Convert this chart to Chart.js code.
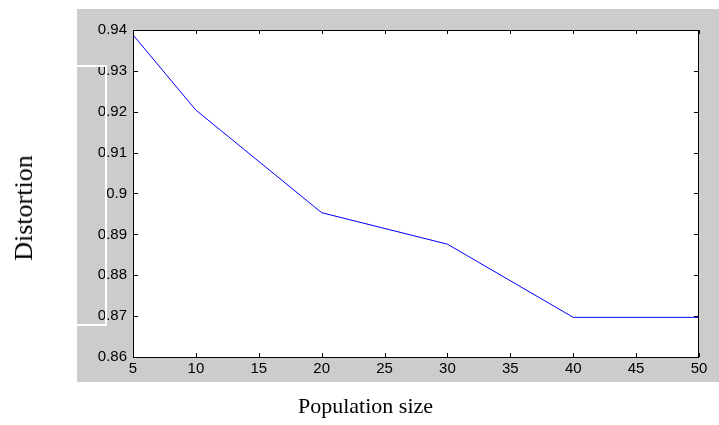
<!DOCTYPE html>
<html>
<head>
<meta charset="utf-8">
<script src="https://cdn.jsdelivr.net/npm/chart.js@4.4.1/dist/chart.umd.min.js"></script>
<style>
  html, body { margin: 0; padding: 0; background: #ffffff; }
  #wrap { position: relative; width: 719px; height: 425px; overflow: hidden; }
  #c { position: absolute; left: 0; top: 0; }
  .title { position: absolute; font-family: "Liberation Serif", "Times New Roman", serif; color: #000; white-space: nowrap; }
  #xt { font-size: 22px; left: 298px; top: 393px; }
  #yt { font-size: 26px; left: 24px; top: 208px; transform: translate(-50%, -50%) rotate(-90deg); }
</style>
</head>
<body>
<div id="wrap">
  <canvas id="c" width="719" height="425"></canvas>
  <div class="title" id="xt">Population size</div>
  <div class="title" id="yt">Distortion</div>
</div>
<script>
// ---- data ----
const populationSizes = [5, 10, 20, 30, 40, 50];
const distortion = [0.9388, 0.9204, 0.8953, 0.8876, 0.8697, 0.8697];
const xTicks = [5, 10, 15, 20, 25, 30, 35, 40, 45, 50];
const yTicks = [0.86, 0.87, 0.88, 0.89, 0.9, 0.91, 0.92, 0.93, 0.94];
const yTickLabels = ['0.86', '0.87', '0.88', '0.89', '0.9', '0.91', '0.92', '0.93', '0.94'];

const PANEL = { left: 77, top: 9, right: 719, bottom: 382 };

const framePlugin = {
  id: 'frame',
  beforeDraw(chart) {
    const ctx = chart.ctx, a = chart.chartArea;
    ctx.save();
    ctx.fillStyle = '#ffffff';
    ctx.fillRect(0, 0, chart.width, chart.height);
    ctx.fillStyle = '#cccccc';
    ctx.fillRect(PANEL.left, PANEL.top, PANEL.right - PANEL.left, PANEL.bottom - PANEL.top);
    ctx.fillStyle = '#ffffff';
    ctx.fillRect(a.left, a.top, a.right - a.left, a.bottom - a.top);
    ctx.restore();
  },
  afterDraw(chart) {
    const ctx = chart.ctx, a = chart.chartArea;
    const xs = chart.scales.x, ys = chart.scales.y;
    ctx.save();
    ctx.strokeStyle = '#000000';
    ctx.lineWidth = 1;
    ctx.beginPath();
    xTicks.forEach(v => {
      const px = Math.round(xs.getPixelForValue(v)) + 0.5;
      ctx.moveTo(px, a.bottom); ctx.lineTo(px, a.bottom - 4);
      ctx.moveTo(px, a.top); ctx.lineTo(px, a.top + 4);
    });
    yTicks.forEach(v => {
      const py = Math.round(ys.getPixelForValue(v)) + 0.5;
      ctx.moveTo(a.left, py); ctx.lineTo(a.left + 5, py);
      ctx.moveTo(a.right, py); ctx.lineTo(a.right - 5, py);
    });
    ctx.stroke();
    ctx.strokeRect(a.left + 0.5, a.top + 0.5, a.right - a.left - 1, a.bottom - a.top);
    // white bracket overlay on left
    ctx.strokeStyle = '#ffffff';
    ctx.lineWidth = 2;
    ctx.beginPath();
    ctx.moveTo(PANEL.left, 66); ctx.lineTo(106, 66);
    ctx.lineTo(106, 325); ctx.lineTo(PANEL.left, 325);
    ctx.stroke();
    ctx.restore();
  }
};

new Chart(document.getElementById('c'), {
  type: 'line',
  data: {
    datasets: [{
      data: populationSizes.map((x, i) => ({ x: x, y: distortion[i] })),
      borderColor: '#0000ff',
      borderWidth: 1,
      pointRadius: 0,
      tension: 0,
      fill: false
    }]
  },
  options: {
    responsive: false,
    animation: false,
    devicePixelRatio: 1,
    layout: { padding: { left: 0, top: 30, right: 20, bottom: 0 } },
    plugins: { legend: { display: false }, tooltip: { enabled: false } },
    scales: {
      x: {
        type: 'linear', min: 5, max: 50,
        afterBuildTicks(s) { s.ticks = xTicks.map(v => ({ value: v })); },
        afterFit(s) { s.height = 68; },
        grid: { display: false, drawTicks: false },
        border: { display: false },
        ticks: { padding: 3, color: '#000', font: { family: 'Liberation Sans', size: 15 }, maxRotation: 0, autoSkip: false }
      },
      y: {
        type: 'linear', min: 0.86, max: 0.94,
        afterBuildTicks(s) { s.ticks = yTicks.map(v => ({ value: v })); },
        afterFit(s) { s.width = 133; },
        grid: { display: false, drawTicks: false },
        border: { display: false },
        ticks: { padding: 6, color: '#000', font: { family: 'Liberation Sans', size: 15 },
                 callback: (v, i) => yTickLabels[i] }
      }
    }
  },
  plugins: [framePlugin]
});
</script>
</body>
</html>
